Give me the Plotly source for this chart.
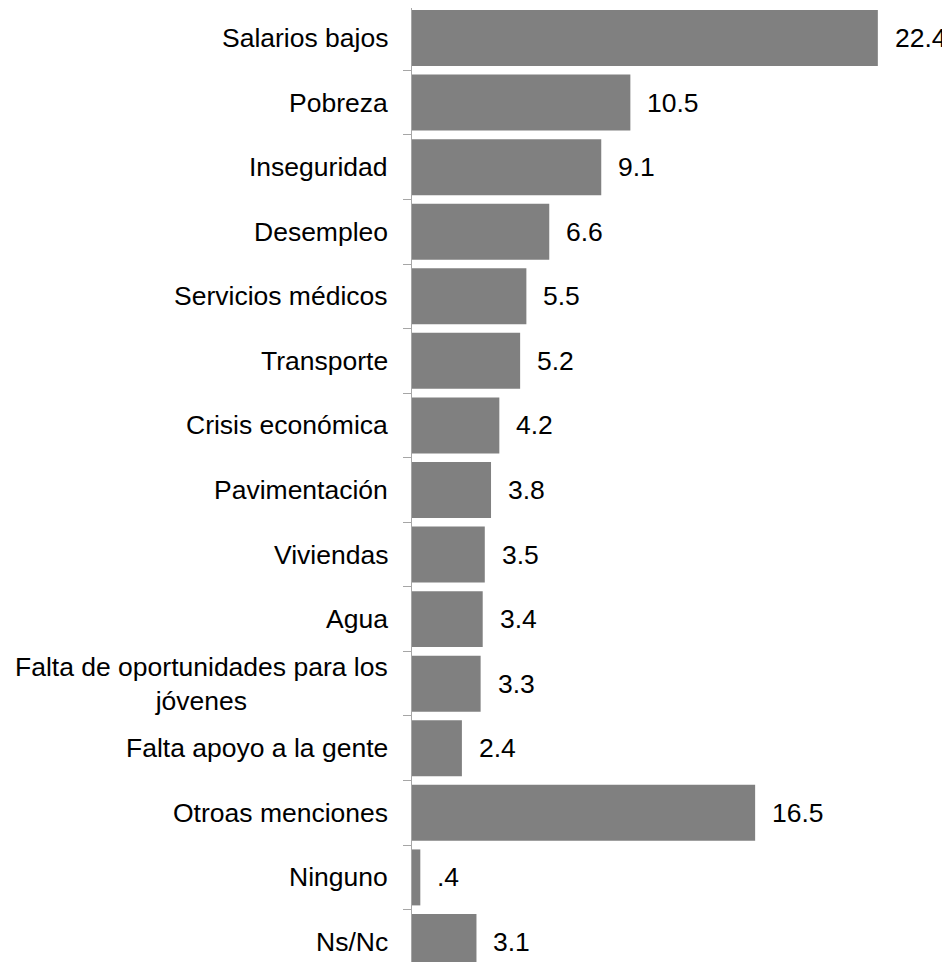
import plotly.graph_objects as go

categories = [
    "Salarios bajos", "Pobreza", "Inseguridad", "Desempleo", "Servicios médicos",
    "Transporte", "Crisis económica", "Pavimentación", "Viviendas", "Agua",
    "Falta de oportunidades para los<br>jóvenes", "Falta apoyo a la gente",
    "Otroas menciones", "Ninguno", "Ns/Nc",
]
values = [22.4, 10.5, 9.1, 6.6, 5.5, 5.2, 4.2, 3.8, 3.5, 3.4, 3.3, 2.4, 16.5, 0.4, 3.1]

FONT = "Arial, Liberation Sans, sans-serif"
BAR_COLOR = "#808080"
FS = 26.5

fig = go.Figure(go.Bar(
    x=values, y=categories, orientation="h",
    marker=dict(color=BAR_COLOR, line=dict(width=0)),
    width=0.867, hoverinfo="skip",
))

annotations = []
for c, v in zip(categories, values):
    lbl = f"{v:.1f}".lstrip("0")
    annotations.append(dict(x=v, y=c, xref="x", yref="y", text=lbl, showarrow=False,
                            xanchor="left", xshift=15, font=dict(size=FS, color="#000", family=FONT)))
    annotations.append(dict(x=0, y=c, xref="paper", yref="y", text=c, showarrow=False,
                            xanchor="right", xshift=-22, align="center",
                            font=dict(size=FS, color="#000", family=FONT)))

fig.update_layout(
    width=942, height=954,
    margin=dict(l=404, r=0, t=0, b=0),
    plot_bgcolor="white", paper_bgcolor="white",
    showlegend=False,
    font=dict(family=FONT, size=FS, color="#000"),
    xaxis=dict(range=[0, 25.87], visible=False, fixedrange=True),
    yaxis=dict(range=[14.31, -0.4646], showticklabels=False, showline=True,
               linecolor="#a6a6a6", linewidth=1, ticks="outside", tickson="boundaries",
               ticklen=8, tickcolor="#a6a6a6", tickwidth=1, showgrid=False, zeroline=False),
    annotations=annotations,
)

fig.write_html("out.html")
